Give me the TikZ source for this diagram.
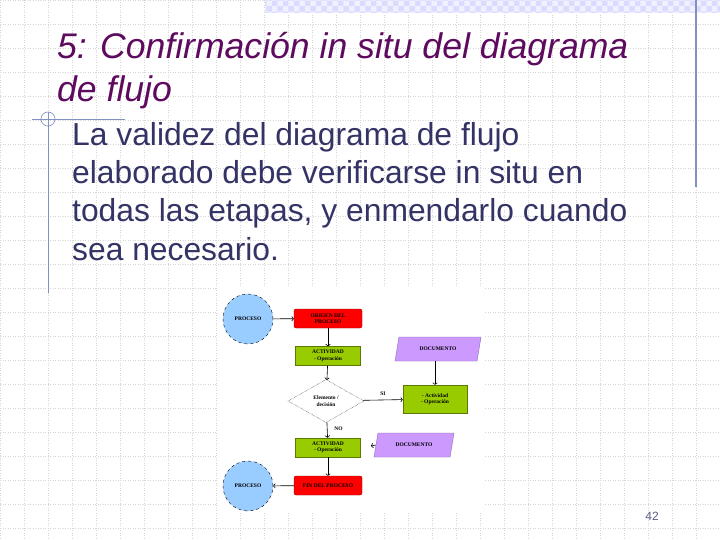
\documentclass[tikz,border=0pt]{standalone}
\usepackage{fontspec}
\setmainfont{Liberation Sans}
\newfontfamily\boxfont{Liberation Serif}
\usetikzlibrary{arrows.meta, shapes.geometric, patterns}
\definecolor{titlepurple}{HTML}{5E0A5E}
\definecolor{bodyblue}{HTML}{333366}
\definecolor{decoblue}{HTML}{8090C0}
\definecolor{gridgray}{HTML}{D6D6D6}
\definecolor{procblue}{HTML}{99CCFF}
\definecolor{actgreen}{HTML}{99CC00}
\definecolor{docpurple}{HTML}{CC99FF}

\begin{document}
\begin{tikzpicture}[x=1pt, y=-1pt,
    every node/.style={font=\boxfont\bfseries\fontsize{5.5}{6.5}\selectfont, align=center, inner sep=1pt},
    proc/.style={circle, draw, dashed, fill=procblue, minimum size=50pt},
    redbox/.style={rectangle, rounded corners=2pt, draw=red!55!black, fill=red, minimum width=68pt, minimum height=19pt},
    actbox/.style={rectangle, draw=actgreen!60!black, fill=actgreen, minimum width=65pt, minimum height=19pt},
    docbox/.style={trapezium, trapezium left angle=55, trapezium right angle=125, trapezium stretches body, fill=docpurple, draw=docpurple!70!black, minimum height=24pt},
    decision/.style={diamond, draw, densely dotted, fill=white, minimum width=76pt, minimum height=43pt, inner sep=0pt},
    flow/.style={-{To[scale=0.8]}, semithick},
    slidetext/.style={anchor=base west, align=left, inner sep=0pt}]
    \useasboundingbox (0,0) rectangle (720,540);
    \fill[white] (0,0) rectangle (720,540);
    \foreach \x in {0,24,...,720}
        \draw[gridgray, dotted, line width=0.5pt] (\x,0) -- (\x,540);
    \foreach \y in {0,24,...,540}
        \draw[gridgray, dotted, line width=0.5pt] (0,\y) -- (720,\y);
    \fill[blue!6] (265,0) rectangle (720,13);
    \fill[pattern=checkerboard, pattern color=blue!14] (265,0) rectangle (720,13);
    \draw[decoblue, line width=1.2pt] (696,0) -- (696,187);
    \draw[decoblue, line width=0.8pt] (32,119) -- (125,119);
    \draw[decoblue, line width=0.8pt] (48,112) -- (48,293);
    \draw[decoblue, line width=0.6pt] (48,119) circle (7);

    \node[slidetext, font=\fontsize{35.6}{43}\selectfont\itshape, text=titlepurple] (title1) at (57,59) {5: Confirmación in situ del diagrama};
    \node[slidetext, font=\fontsize{35.6}{43}\selectfont\itshape, text=titlepurple] (title2) at (57,102) {de flujo};
    \node[slidetext, font=\fontsize{31.8}{38}\selectfont, text=bodyblue] (body1) at (72,146) {La validez del diagrama de flujo};
    \node[slidetext, font=\fontsize{31.8}{38}\selectfont, text=bodyblue] (body2) at (72,184) {elaborado debe verificarse in situ en};
    \node[slidetext, font=\fontsize{31.8}{38}\selectfont, text=bodyblue] (body3) at (72,222) {todas las etapas, y enmendarlo cuando};
    \node[slidetext, font=\fontsize{31.8}{38}\selectfont, text=bodyblue] (body4) at (72,260) {sea necesario.};
    \node[font=\fontsize{12}{14}\selectfont, text=bodyblue!80] (pagenum) at (652,516) {42};

    \fill[white] (218,288) rectangle (484,513);
    \node[proc] at (248,319) (p1) {PROCESO};
    \node[redbox] at (328,318.5) (o1) {ORIGEN DEL\\PROCESO};
    \node[actbox] at (328,356) (a1) {ACTIVIDAD\\- Operación};
    \node[decision] at (326,401) (d1) {Elemento /\\decisión};
    \node[actbox, minimum width=64pt, minimum height=28pt] at (435,399) (a2) {- Actividad\\- Operación};
    \node[docbox, minimum width=86pt] at (438,349) (doc1) {DOCUMENTO};
    \node[actbox] at (328,447.5) (a3) {ACTIVIDAD\\- Operación};
    \node[docbox, minimum width=80pt] at (414,445) (doc2) {DOCUMENTO};
    \node[redbox] at (328,485.5) (f1) {FIN DEL PROCESO};
    \node[proc] at (248,486) (p2) {PROCESO};
    \coordinate (stub) at (371,446);

    \draw[flow] (p1) -- (o1);
    \draw[flow] (o1) -- (a1);
    \draw[flow] (a1) -- (d1);
    \draw[flow] (d1) -- node[above=3pt] (yes) {SI} (a2);
    \draw[flow] (doc1.south -| a2.north) -- (a2);
    \draw[flow] (d1) -- node[right=6pt, pos=0.4] (no) {NO} (a3);
    \draw[flow] (a3) -- (f1);
    \draw[flow] (f1) -- (p2);
    \draw[flow] (doc2.west) -- (stub);
\end{tikzpicture}
\end{document}
